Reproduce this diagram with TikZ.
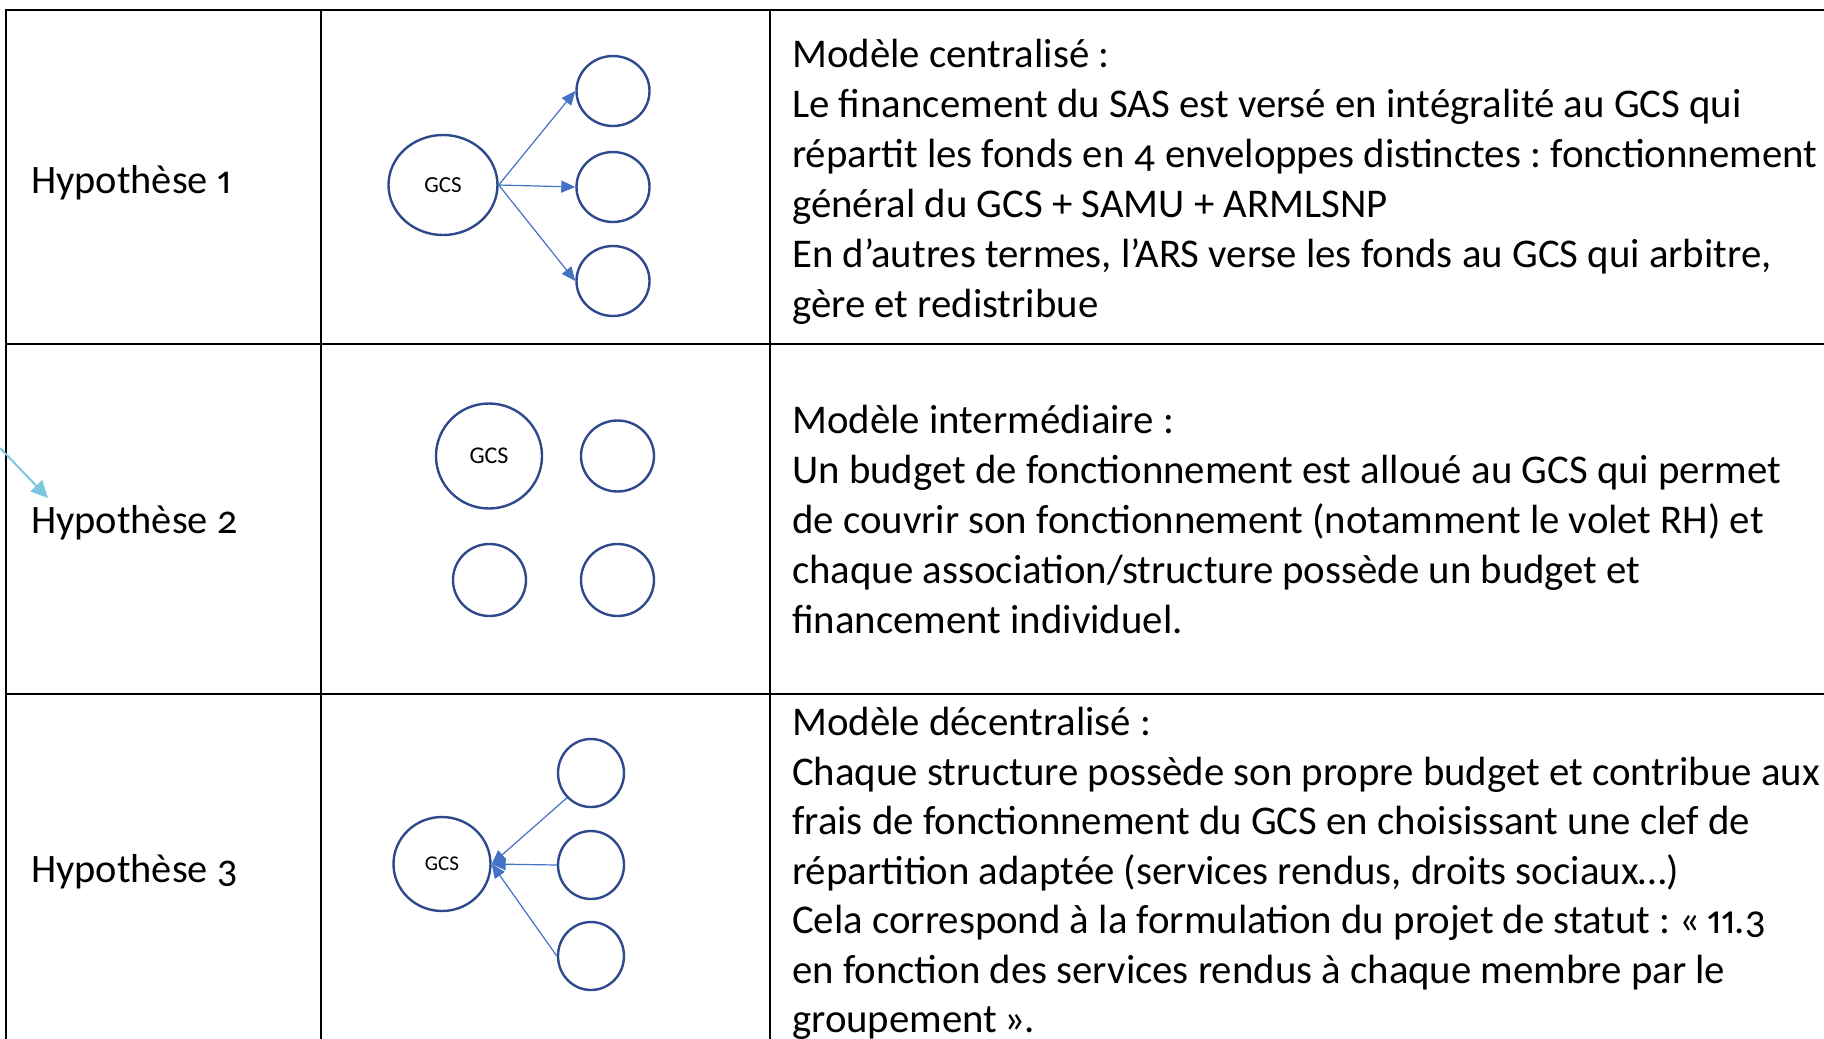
\documentclass[tikz,border=0pt]{standalone}
\usepackage{fontspec}
\setmainfont{Carlito}[Numbers={OldStyle,Proportional}]
\usetikzlibrary{shapes.geometric,arrows.meta}
\definecolor{cblue}{HTML}{2F4A8C}
\definecolor{ablue}{HTML}{4472C4}
\definecolor{cyanarr}{HTML}{7CC6E0}
\newcommand\bodyfont{\fontsize{40.8}{50}\selectfont}
\newcommand\labfont{\fontsize{40.4}{50}\selectfont}
\frenchspacing
\tikzset{
  txt/.style={anchor=base west, inner sep=0pt, font=\bodyfont},
  lab/.style={anchor=base west, inner sep=0pt, font=\labfont},
  grid/.style={line width=2pt, black},
  circ/.style={ellipse, draw=cblue, line width=2.4pt, inner sep=0pt},
  arr/.style={ablue, line width=1.2pt, -{Triangle[length=14pt,width=12pt]}},
  carr/.style={cyanarr, line width=2pt, -{Triangle[length=17pt,width=16pt]}},
}
\begin{document}
\begin{tikzpicture}[x=1pt,y=-1pt]
\useasboundingbox[fill=white] (0,0) rectangle (1824,1039);
% table grid
\draw[grid] (6,10) -- (1824,10);
\draw[grid] (6,344) -- (1824,344);
\draw[grid] (6,694) -- (1824,694);
\draw[grid] (6,9) -- (6,1039);
\draw[grid] (321,9) -- (321,1039);
\draw[grid] (770,9) -- (770,1039);
% labels
\node[lab] (h1) at (31,193) {Hypothèse 1};
\node[lab] (h2) at (31,533) {Hypothèse 2};
\node[lab] (h3) at (31,882) {Hypothèse 3};
% cyan arrow
\coordinate (cs) at (0,448);
\coordinate (ct) at (48,498);
\draw[carr] (cs) -- (ct);
% row 1 diagram
\node[circ, minimum width=109pt, minimum height=100pt, font=\fontsize{23}{27}\selectfont] (g1) at (443,185) {GCS};
\node[circ, minimum width=73pt, minimum height=70pt] (s11) at (613,91) {};
\node[circ, minimum width=73pt, minimum height=70pt] (s12) at (613,187) {};
\node[circ, minimum width=73pt, minimum height=70pt] (s13) at (613,281) {};
\draw[arr] (g1.east) -- (s11.west);
\draw[arr] (g1.east) -- (s12.west);
\draw[arr] (g1.east) -- (s13.west);
% row 2 diagram
\node[circ, minimum width=106pt, minimum height=105pt, font=\fontsize{24}{28}\selectfont] (g2) at (489,456) {GCS};
\node[circ, minimum width=73pt, minimum height=71pt] (s21) at (617.5,456) {};
\node[circ, minimum width=73pt, minimum height=72pt] (s22) at (489.5,580) {};
\node[circ, minimum width=73pt, minimum height=72pt] (s23) at (617.5,580) {};
% row 3 diagram
\node[circ, minimum width=97pt, minimum height=94pt, font=\fontsize{21}{25}\selectfont] (g3) at (442,864) {GCS};
\node[circ, minimum width=66pt, minimum height=68pt] (s31) at (591,773) {};
\node[circ, minimum width=66pt, minimum height=68pt] (s32) at (591,865) {};
\node[circ, minimum width=66pt, minimum height=68pt] (s33) at (591,956) {};
\draw[arr] (s31.south west) -- (g3.east);
\draw[arr] (s32.west) -- (g3.east);
\draw[arr] (s33.west) -- (g3.east);
% row 1 text
\node[txt] (a1) at (792,67) {Modèle centralisé :};
\node[txt] (a2) at (792,117) {Le financement du SAS est versé en intégralité au GCS qui};
\node[txt] (a3) at (792,167) {répartit les fonds en 4 enveloppes distinctes : fonctionnement};
\node[txt] (a4) at (792,217) {général du GCS + SAMU + ARMLSNP};
\node[txt] (a5) at (792,267) {En d’autres termes, l’ARS verse les fonds au GCS qui arbitre,};
\node[txt] (a6) at (792,317) {gère et redistribue};
% row 2 text
\node[txt] (b1) at (792,433) {Modèle intermédiaire :};
\node[txt] (b2) at (792,483) {Un budget de fonctionnement est alloué au GCS qui permet};
\node[txt] (b3) at (792,533) {de couvrir son fonctionnement (notamment le volet RH) et};
\node[txt] (b4) at (792,583) {chaque association/structure possède un budget et};
\node[txt] (b5) at (792,633) {financement individuel.};
% row 3 text
\node[txt] (c1) at (792,735) {Modèle décentralisé :};
\node[txt] (c2) at (792,785) {Chaque structure possède son propre budget et contribue aux};
\node[txt] (c3) at (792,834.5) {frais de fonctionnement du GCS en choisissant une clef de};
\node[txt] (c4) at (792,884) {répartition adaptée (services rendus, droits sociaux…)};
\node[txt] (c5) at (792,933.5) {Cela correspond à la formulation du projet de statut : «\,11.3};
\node[txt] (c6) at (792,983) {en fonction des services rendus à chaque membre par le};
\node[txt] (c7) at (792,1032.5) {groupement\,».};
\end{tikzpicture}
\end{document}
